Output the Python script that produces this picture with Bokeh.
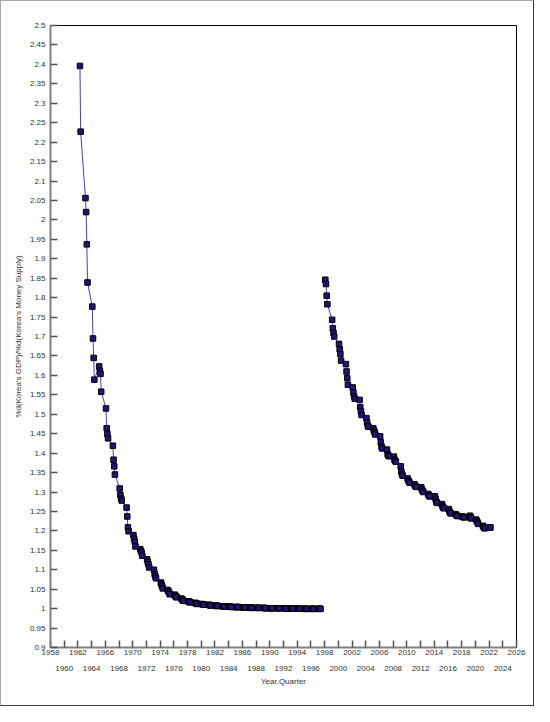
from bokeh.plotting import figure
from bokeh.models import Range1d, LinearAxis, FixedTicker, CustomJSTickFormatter, ColumnDataSource
from bokeh.embed import file_html
from bokeh.resources import INLINE

# ---- data (Year.Quarter, ratio) ----
seg1_start_year = 1962
seg1_start_quarter = 3
seg1_values = [
    2.396, 2.227,
    2.056, 2.020, 1.937, 1.839,
    1.777, 1.695, 1.645, 1.589,
    1.623, 1.612, 1.604, 1.558,
    1.515, 1.464, 1.449, 1.438,
    1.419, 1.383, 1.366, 1.345,
    1.309, 1.292, 1.283, 1.278,
    1.260, 1.237, 1.209, 1.199,
    1.189, 1.180, 1.172, 1.160,
    1.153, 1.148, 1.144, 1.136,
    1.127, 1.120, 1.114, 1.106,
    1.100, 1.089, 1.083, 1.078,
    1.067, 1.062, 1.057, 1.052,
    1.048, 1.045, 1.042, 1.037,
    1.036, 1.033, 1.031, 1.029,
    1.026, 1.024, 1.022, 1.020,
    1.019, 1.018, 1.017, 1.016,
    1.015, 1.014, 1.013, 1.012,
    1.012, 1.011, 1.011, 1.010,
    1.010, 1.009, 1.009, 1.008,
    1.008, 1.007, 1.007, 1.007,
    1.006, 1.006, 1.006, 1.005,
    1.005, 1.005, 1.005, 1.004,
    1.004, 1.004, 1.004, 1.004,
    1.003, 1.003, 1.003, 1.003,
    1.003, 1.003, 1.002, 1.002,
    1.002, 1.002, 1.002, 1.002,
    1.002, 1.002, 1.001, 1.001,
    1.001, 1.001, 1.001, 1.001,
    1.001, 1.001, 1.001, 1.001,
    1.001, 1.001, 1.000, 1.000,
    1.000, 1.000, 1.000, 1.000,
    1.000, 1.000, 1.000, 1.000,
    0.9995, 0.9995, 0.9995, 0.9995,
    0.9995, 0.9995, 0.9995, 0.9995,
    0.9995, 0.9995, 0.9995, 0.9995,
]

seg2_start_year = 1998
seg2_start_quarter = 1
seg2_values = [
    1.846, 1.835, 1.805, 1.783,
    1.743, 1.721, 1.709, 1.700,
    1.681, 1.667, 1.655, 1.638,
    1.629, 1.610, 1.593, 1.576,
    1.569, 1.556, 1.546, 1.540,
    1.537, 1.518, 1.507, 1.498,
    1.490, 1.479, 1.470, 1.468,
    1.464, 1.458, 1.453, 1.448,
    1.443, 1.428, 1.417, 1.412,
    1.409, 1.397, 1.394, 1.392,
    1.391, 1.383, 1.380, 1.378,
    1.366, 1.352, 1.345, 1.342,
    1.335, 1.330, 1.327, 1.324,
    1.320, 1.316, 1.314, 1.313,
    1.312, 1.306, 1.303, 1.300,
    1.295, 1.292, 1.289, 1.289,
    1.289, 1.282, 1.275, 1.272,
    1.269, 1.264, 1.260, 1.258,
    1.256, 1.251, 1.247, 1.245,
    1.243, 1.241, 1.239, 1.238,
    1.237, 1.236, 1.235, 1.235,
    1.235, 1.239, 1.236, 1.232,
    1.229, 1.226, 1.222, 1.218,
    1.213, 1.210, 1.207, 1.207,
    1.209, 1.209,
]

x_tick_years = list(range(1958, 2027, 2))
y_tick_values = [round(0.9 + 0.05 * i, 2) for i in range(33)]

x_label = "Year.Quarter"
y_label = "%d(Korea's GDP)/%d(Korea's Money Supply)"


def year_quarter(start_year, start_q, n):
    out = []
    y, q = start_year, start_q
    for _ in range(n):
        out.append(round(y + q / 10.0, 1))
        q += 1
        if q > 4:
            q = 1
            y += 1
    return out


src1 = ColumnDataSource(dict(x=year_quarter(seg1_start_year, seg1_start_quarter, len(seg1_values)), y=seg1_values))
src2 = ColumnDataSource(dict(x=year_quarter(seg2_start_year, seg2_start_quarter, len(seg2_values)), y=seg2_values))

FONT = "Liberation Sans"
TXT = "#333333"

p = figure(width=534, height=706, output_backend="svg", toolbar_location=None,
           x_range=Range1d(1958, 2026), y_range=Range1d(0.9, 2.5),
           min_border_left=49, min_border_right=19, min_border_top=24, min_border_bottom=60,
           background_fill_color="white", border_fill_color="white",
           outline_line_color="black", outline_line_width=1)
p.styles = {"border-style": "solid", "border-width": "1px",
            "border-color": "#a8a8a8 #3a3a3a #3a3a3a #a8a8a8"}

p.xgrid.visible = False
p.ygrid.visible = False

line_color = "#4b3cb4"
for s in (src1, src2):
    p.line("x", "y", source=s, line_color=line_color, line_width=1)
    p.scatter("x", "y", source=s, marker="square", size=5.5,
              fill_color="#24127a", line_color="black", line_width=1)

# y axis
ya = p.yaxis[0]
ya.ticker = FixedTicker(ticks=y_tick_values)
ya.formatter = CustomJSTickFormatter(code="return String(parseFloat(tick.toFixed(2)));")
ya.major_tick_in = 7
ya.major_tick_out = 0
ya.minor_tick_line_color = None
ya.axis_line_color = "#808080"
ya.axis_line_width = 2
ya.major_tick_line_color = "#555555"
ya.major_tick_line_width = 1.5
ya.major_label_text_font = FONT
ya.major_label_text_font_size = "8px"
ya.major_label_text_color = TXT
ya.major_label_standoff = 5
ya.axis_label = y_label
ya.axis_label_text_font = FONT
ya.axis_label_text_font_size = "8px"
ya.axis_label_text_font_style = "normal"
ya.axis_label_text_color = TXT
ya.axis_label_standoff = 4

# x axis (row 1)
xa = p.xaxis[0]
xa.ticker = FixedTicker(ticks=x_tick_years)
xa.formatter = CustomJSTickFormatter(code="var t = Math.round(tick); return (t % 4 === 2) ? String(t) : '';")
xa.major_tick_in = 7
xa.major_tick_out = 0
xa.minor_tick_line_color = None
xa.axis_line_color = "#808080"
xa.axis_line_width = 2
xa.major_tick_line_color = "#555555"
xa.major_tick_line_width = 1.5
xa.major_label_text_font = FONT
xa.major_label_text_font_size = "8px"
xa.major_label_text_color = TXT
xa.major_label_standoff = 2

# x axis (row 2, staggered labels)
xa2 = LinearAxis(ticker=FixedTicker(ticks=x_tick_years),
                 formatter=CustomJSTickFormatter(code="var t = Math.round(tick); return (t % 4 === 0) ? String(t) : '';"),
                 axis_line_color=None, major_tick_line_color=None, minor_tick_line_color=None,
                 major_tick_in=0, major_tick_out=0,
                 major_label_text_font=FONT, major_label_text_font_size="8px",
                 major_label_text_color=TXT, major_label_standoff=8,
                 axis_label=x_label, axis_label_text_font=FONT, axis_label_text_font_size="8px",
                 axis_label_text_font_style="normal", axis_label_text_color=TXT,
                 axis_label_standoff=3)
p.add_layout(xa2, "below")

open("out.html", "w").write(file_html(p, INLINE))
